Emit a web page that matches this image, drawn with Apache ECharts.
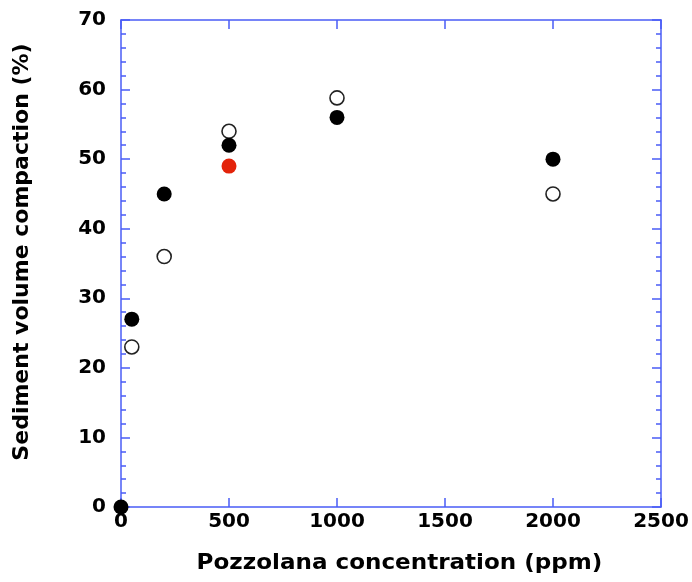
<!DOCTYPE html>
<html>
<head>
<meta charset="utf-8">
<script src="https://cdn.jsdelivr.net/npm/echarts@6/dist/echarts.min.js"></script>
<style>html,body{margin:0;padding:0;background:#fff}#c{width:692px;height:582px}</style>
</head>
<body>
<div id="c"></div>
<script>
// Data (ppm, %)
const filledX = [0, 50, 200, 500, 1000, 2000];
const filledY = [0, 27, 45, 52, 56, 50];
const openX = [50, 200, 500, 1000, 2000];
const openY = [23, 36, 54, 58.8, 45];
const redX = [500];
const redY = [49];
const xTicks = [0, 500, 1000, 1500, 2000, 2500];
const yTicks = [0, 10, 20, 30, 40, 50, 60, 70];
const xTitle = 'Pozzolana concentration (ppm)';
const yTitle = 'Sediment volume compaction (%)';

const pair = (xs, ys) => xs.map((x, i) => [x, ys[i]]);
const BLUE = '#4a5cf6';
const FONT = 'DejaVu Sans';
const lbl = {fontFamily: FONT, fontWeight: 'bold', fontSize: 20, color: '#000', formatter: v => String(v)};

const chart = echarts.init(document.getElementById('c'));
chart.setOption({
  animation: false,
  backgroundColor: '#fff',
  grid: {left: 121, right: 31, top: 20, bottom: 75},
  xAxis: [{
    type: 'value', min: xTicks[0], max: xTicks[xTicks.length - 1], interval: 500, position: 'bottom',
    axisLine: {show: true, onZero: false, lineStyle: {color: BLUE, width: 1.5}},
    axisTick: {show: true, inside: true, length: 9, lineStyle: {color: BLUE, width: 1.5}},
    minorTick: {show: false},
    splitLine: {show: false},
    axisLabel: Object.assign({margin: 5}, lbl)
  }, {
    type: 'value', min: xTicks[0], max: xTicks[xTicks.length - 1], interval: 500, position: 'top',
    axisLine: {show: true, onZero: false, lineStyle: {color: BLUE, width: 1.5}},
    axisTick: {show: true, inside: true, length: 9, lineStyle: {color: BLUE, width: 1.5}},
    minorTick: {show: false},
    splitLine: {show: false},
    axisLabel: {show: false}
  }],
  yAxis: [{
    type: 'value', min: yTicks[0], max: yTicks[yTicks.length - 1], interval: 10, position: 'left',
    axisLine: {show: true, onZero: false, lineStyle: {color: BLUE, width: 1.5}},
    axisTick: {show: true, inside: true, length: 9, lineStyle: {color: BLUE, width: 1.5}},
    minorTick: {show: true, splitNumber: 5, length: 5, lineStyle: {color: BLUE, width: 1.5}},
    splitLine: {show: false},
    axisLabel: Object.assign({margin: 15, padding: [0, 0, 7, 0]}, lbl)
  }, {
    type: 'value', min: yTicks[0], max: yTicks[yTicks.length - 1], interval: 10, position: 'right',
    axisLine: {show: true, onZero: false, lineStyle: {color: BLUE, width: 1.5}},
    axisTick: {show: true, inside: true, length: 9, lineStyle: {color: BLUE, width: 1.5}},
    minorTick: {show: true, splitNumber: 5, length: 5, lineStyle: {color: BLUE, width: 1.5}},
    splitLine: {show: false},
    axisLabel: {show: false}
  }],
  graphic: [{
    type: 'text', x: 399.5, y: 563, scaleX: 1.048,
    style: {text: xTitle, fontFamily: FONT, fontWeight: 'bold', fontSize: 22, fill: '#000', align: 'center', verticalAlign: 'middle'}
  }, {
    type: 'text', x: 22, y: 252, rotation: Math.PI / 2,
    style: {text: yTitle, fontFamily: FONT, fontWeight: 'bold', fontSize: 22, fill: '#000', align: 'center', verticalAlign: 'middle'}
  }],
  series: [{
    name: 'open', type: 'scatter', data: pair(openX, openY), symbol: 'circle', symbolSize: 14, clip: false,
    itemStyle: {color: '#fff', borderColor: '#222', borderWidth: 1.6, opacity: 1}, z: 2
  }, {
    name: 'filled', type: 'scatter', data: pair(filledX, filledY), symbol: 'circle', symbolSize: 15, clip: false,
    itemStyle: {color: '#000', opacity: 1}, z: 3
  }, {
    name: 'red', type: 'scatter', data: pair(redX, redY), symbol: 'circle', symbolSize: 15, clip: false,
    itemStyle: {color: '#e3230a', opacity: 1}, z: 3
  }]
});
</script>
</body>
</html>
